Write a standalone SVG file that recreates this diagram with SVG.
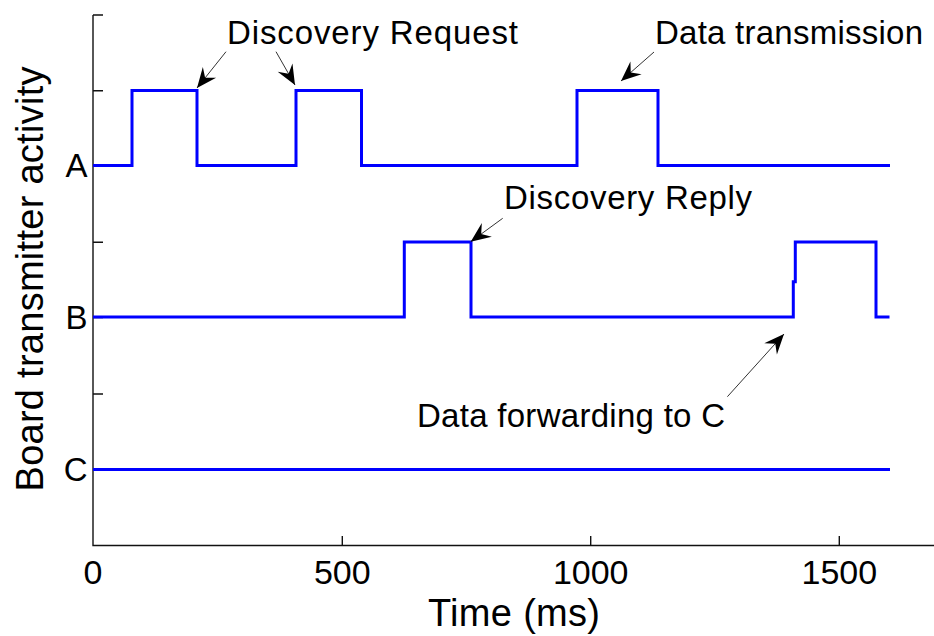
<svg xmlns="http://www.w3.org/2000/svg" width="934" height="636" viewBox="0 0 934 636">
<style>
  .axis { stroke: #111; stroke-width: 1.4; fill: none; }
  .sig { stroke: #0000ff; stroke-width: 3; fill: none; stroke-linejoin: miter; stroke-linecap: butt; }
  .txt { font-family: "Liberation Sans", Arial, Helvetica, sans-serif; fill: #000; }
  .tick { font-size: 34px; text-anchor: middle; }
  .lvl { font-size: 33px; text-anchor: end; }
  .ann { font-size: 33px; }
  .lab { font-size: 38px; text-anchor: middle; }
  .arr { stroke: #333; stroke-width: 1; fill: none; marker-end: url(#head); }
</style>
<defs>
  <marker id="head" markerUnits="userSpaceOnUse" markerWidth="26" markerHeight="22" viewBox="-22 -11 24 22" refX="0" refY="0" orient="auto">
    <path d="M0,0 L-20,-8.5 L-13,0 L-20,8.5 Z" fill="#000"/>
  </marker>
</defs>
<rect width="934" height="636" fill="#fff"/>

<g id="axes">
  <path class="axis" d="M93,15 V545.5 H934"/>
  <path class="axis" d="M93,15 H103 M93,90.7 H103 M93,166 H103 M93,242.3 H103 M93,317.5 H103 M93,394 H103 M93,469.5 H103"/>
  <path class="axis" d="M342.3,545.5 V536 M590.7,545.5 V536 M839.3,545.5 V536"/>
  <g class="txt tick">
    <text x="93" y="583.5">0</text>
    <text x="342.3" y="583.5">500</text>
    <text x="590.7" y="583.5">1000</text>
    <text x="839.3" y="583.5">1500</text>
  </g>
  <g class="txt lvl">
    <text x="87.5" y="177">A</text>
    <text x="87.5" y="328.5">B</text>
    <text x="87.5" y="481">C</text>
  </g>
  <text class="txt lab" x="514" y="626" textLength="172">Time (ms)</text>
  <text class="txt lab" transform="translate(43,279) rotate(-90)" x="0" y="0" textLength="425">Board transmitter activity</text>
</g>

<g id="signals">
  <path id="sigA" class="sig" d="M93,165.5 H132 V90.5 H197 V165.5 H296 V90.5 H361.5 V165.5 H577 V90.5 H658 V165.5 H890"/>
  <path id="sigB" class="sig" d="M93,317 H404.3 V242 H471 V317 H793.3 V281.7 H795.3 V242 H876 V317 H889.5"/>
  <path id="sigC" class="sig" d="M93,469.5 H890"/>
</g>

<g id="labels" class="txt ann">
  <text id="lblReq" x="227" y="44" textLength="291">Discovery Request</text>
  <text id="lblTx" x="655" y="44" textLength="268">Data transmission</text>
  <text id="lblRep" x="504" y="209" textLength="248">Discovery Reply</text>
  <text id="lblFwd" x="417" y="427" textLength="308">Data forwarding to C</text>
</g>

<g id="connectors">
  <line class="arr" x1="226" y1="51.7" x2="197" y2="88"/>
  <line class="arr" x1="276" y1="51.7" x2="295" y2="85"/>
  <line class="arr" x1="654" y1="52" x2="621" y2="81"/>
  <line class="arr" x1="502.7" y1="218.3" x2="470.7" y2="241.7"/>
  <line class="arr" x1="727.4" y1="396.7" x2="784" y2="334"/>
</g>
</svg>
